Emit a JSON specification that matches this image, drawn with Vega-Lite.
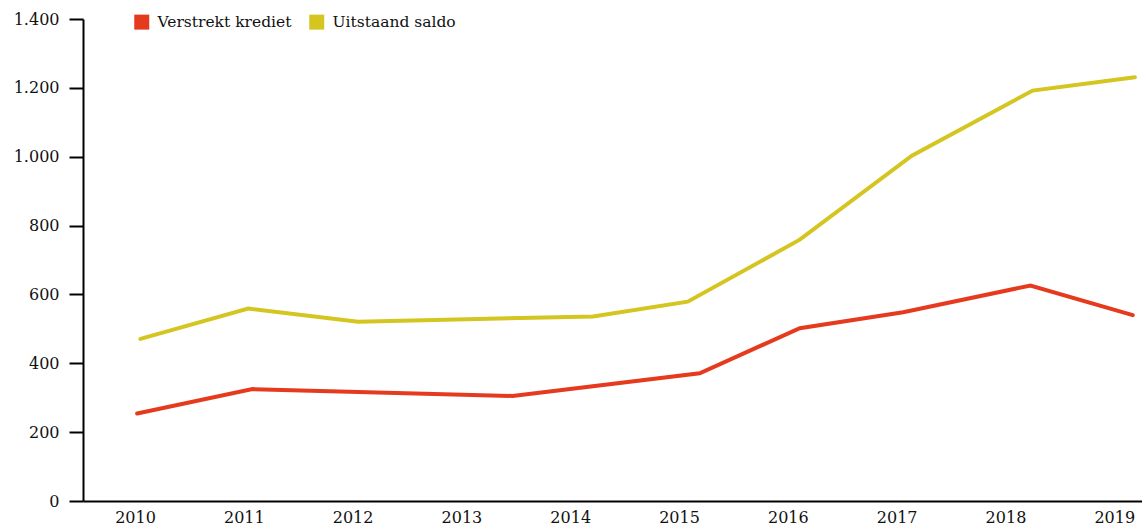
{
  "$schema": "https://vega.github.io/schema/vega-lite/v6.json",
  "autosize": {"type": "none"},
  "padding": {"left": 83, "top": 19, "right": 0, "bottom": 27},
  "width": 1059,
  "height": 482,
  "background": "white",
  "config": {
    "locale": {"number": {"decimal": ",", "thousands": ".", "grouping": [3], "currency": ["€", ""]}},
    "view": {"stroke": null},
    "font": "DejaVu Serif",
    "legend": {"labelFont": "DejaVu Serif"},
    "axis": {"labelFont": "DejaVu Serif"}
  },
  "data": {
    "values": [
      {"jaar": 2010.05, "waarde": 471, "reeks": "Uitstaand saldo"},
      {"jaar": 2011.04, "waarde": 559, "reeks": "Uitstaand saldo"},
      {"jaar": 2012.05, "waarde": 521, "reeks": "Uitstaand saldo"},
      {"jaar": 2014.21, "waarde": 536, "reeks": "Uitstaand saldo"},
      {"jaar": 2015.08, "waarde": 579, "reeks": "Uitstaand saldo"},
      {"jaar": 2016.11, "waarde": 759, "reeks": "Uitstaand saldo"},
      {"jaar": 2017.14, "waarde": 1003, "reeks": "Uitstaand saldo"},
      {"jaar": 2018.25, "waarde": 1192, "reeks": "Uitstaand saldo"},
      {"jaar": 2019.19, "waarde": 1231, "reeks": "Uitstaand saldo"},
      {"jaar": 2010.02, "waarde": 254, "reeks": "Verstrekt krediet"},
      {"jaar": 2011.08, "waarde": 325, "reeks": "Verstrekt krediet"},
      {"jaar": 2013.47, "waarde": 305, "reeks": "Verstrekt krediet"},
      {"jaar": 2015.19, "waarde": 371, "reeks": "Verstrekt krediet"},
      {"jaar": 2016.11, "waarde": 502, "reeks": "Verstrekt krediet"},
      {"jaar": 2017.06, "waarde": 548, "reeks": "Verstrekt krediet"},
      {"jaar": 2018.23, "waarde": 626, "reeks": "Verstrekt krediet"},
      {"jaar": 2019.17, "waarde": 540, "reeks": "Verstrekt krediet"}
    ]
  },
  "mark": {"type": "line", "strokeWidth": 4, "strokeCap": "round", "strokeJoin": "miter", "clip": false},
  "encoding": {
    "x": {
      "field": "jaar",
      "type": "quantitative",
      "scale": {"domain": [2009.522, 2019.255], "nice": false, "zero": false},
      "axis": {
        "title": null,
        "values": [2010, 2011, 2012, 2013, 2014, 2015, 2016, 2017, 2018, 2019],
        "format": "d",
        "grid": false,
        "ticks": false,
        "domainColor": "#000000",
        "domainWidth": 2,
        "labelFont": "DejaVu Serif",
        "labelFontSize": 16,
        "labelColor": "#111111",
        "labelPadding": 8,
        "labelFlush": false
      }
    },
    "y": {
      "field": "waarde",
      "type": "quantitative",
      "scale": {"domain": [0, 1400], "nice": false},
      "axis": {
        "title": null,
        "values": [0, 200, 400, 600, 800, 1000, 1200, 1400],
        "format": ",d",
        "grid": false,
        "ticks": true,
        "tickSize": 14,
        "tickWidth": 2,
        "tickColor": "#000000",
        "domainColor": "#000000",
        "domainWidth": 2,
        "labelFont": "DejaVu Serif",
        "labelFontSize": 16,
        "labelColor": "#111111",
        "labelPadding": 10
      }
    },
    "color": {
      "field": "reeks",
      "type": "nominal",
      "scale": {"domain": ["Verstrekt krediet", "Uitstaand saldo"], "range": ["#e63a1f", "#d4c520"]},
      "legend": {
        "title": null,
        "orient": "none",
        "legendX": 51,
        "legendY": -5,
        "direction": "horizontal",
        "symbolType": "square",
        "symbolSize": 225,
        "symbolStrokeWidth": 0,
        "symbolOpacity": 1,
        "labelFont": "DejaVu Serif",
        "labelFontSize": 15.5,
        "labelColor": "#111111",
        "labelOffset": 8,
        "columnPadding": 17,
        "encode": {
          "symbols": {"update": {"fill": {"scale": "color", "field": "value"}, "strokeWidth": {"value": 0}}},
          "labels": {"update": {"font": {"value": "DejaVu Serif"}}}
        }
      }
    }
  }
}
